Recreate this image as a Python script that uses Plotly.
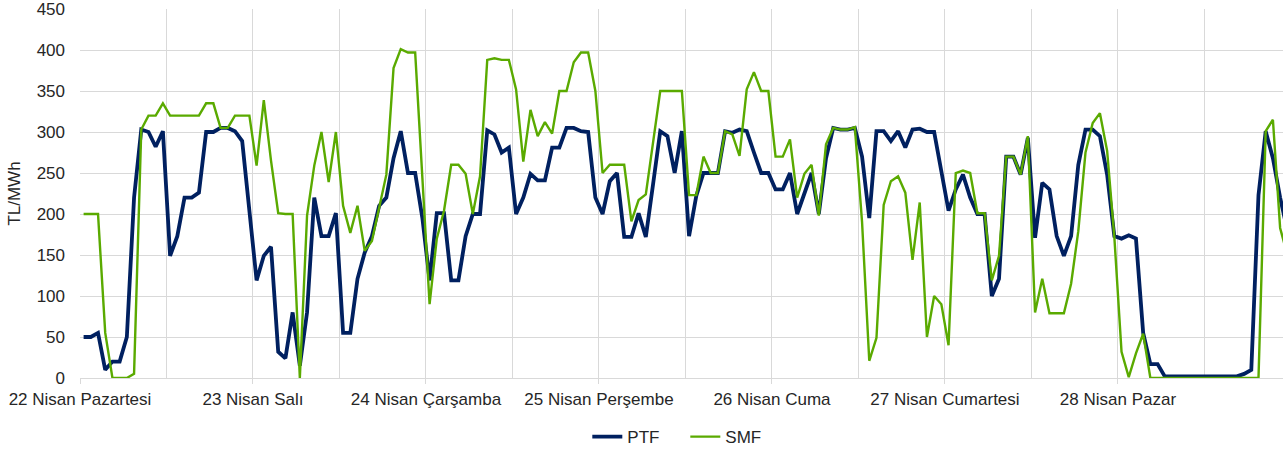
import plotly.graph_objects as go

day_labels = ["22 Nisan Pazartesi", "23 Nisan Salı", "24 Nisan Çarşamba",
              "25 Nisan Perşembe", "26 Nisan Cuma", "27 Nisan Cumartesi", "28 Nisan Pazar"]

ptf = [50, 50, 55, 10, 20, 20, 50, 220, 303, 300, 282, 301, 149, 173, 220, 220, 226, 300, 300, 305, 305, 301, 289, 208,
       119, 149, 160, 32, 24, 80, 15, 80, 220, 173, 173, 201, 55, 55, 121, 153, 173, 210, 220, 268, 301, 250, 250, 195,
       119, 201, 201, 119, 119, 173, 200, 200, 302, 297, 275, 281, 200, 220, 249, 241, 241, 281, 281, 305, 305, 301, 300, 220,
       200, 240, 250, 172, 172, 201, 172, 236, 301, 295, 250, 301, 173, 222, 250, 250, 250, 301, 299, 303, 301, 275, 250, 250,
       230, 230, 250, 200, 224, 250, 200, 268, 305, 303, 303, 305, 270, 195, 301, 301, 289, 301, 281, 303, 304, 300, 300, 252,
       204, 230, 248, 220, 200, 200, 100, 121, 270, 270, 248, 293, 171, 238, 230, 173, 149, 173, 260, 303, 303, 295, 248, 173,
       170, 174, 170, 55, 17, 17, 2, 2, 2, 2, 2, 2, 2, 2, 2, 2, 2, 5, 10, 223, 301, 268, 220, 180]

smf = [200, 200, 200, 55, 0, 0, 0, 5, 303, 320, 320, 335, 320, 320, 320, 320, 320, 335, 335, 305, 305, 320, 320, 320,
       259, 339, 265, 201, 200, 200, 0, 198, 259, 300, 239, 300, 210, 177, 210, 155, 167, 208, 248, 378, 401, 397, 397, 244,
       90, 170, 204, 260, 260, 249, 200, 246, 388, 390, 388, 388, 352, 264, 327, 295, 312, 298, 350, 350, 385, 397, 397, 350,
       250, 260, 260, 260, 191, 217, 224, 287, 350, 350, 350, 350, 223, 223, 270, 250, 250, 301, 297, 271, 352, 373, 350, 350,
       270, 270, 291, 220, 249, 260, 198, 285, 305, 303, 303, 306, 190, 21, 49, 211, 240, 246, 226, 144, 214, 50, 100, 90,
       40, 250, 253, 250, 201, 201, 119, 149, 270, 270, 248, 295, 80, 121, 79, 79, 79, 115, 179, 275, 311, 323, 277, 172,
       32, 1, 30, 54, 0, 0, 0, 0, 0, 0, 0, 0, 0, 0, 0, 0, 0, 0, 0, 0, 301, 315, 183, 150]

hours = list(range(len(ptf)))
day_ticks = [24 * k - 0.5 for k in range(len(day_labels))]

fig = go.Figure()
fig.add_trace(go.Scatter(x=hours, y=ptf, mode="lines", name="PTF",
                         line=dict(color="#002060", width=3.8)))
fig.add_trace(go.Scatter(x=hours, y=smf, mode="lines", name="SMF",
                         line=dict(color="#5AAA00", width=2.4)))

grid = "#D9D9D9"
fig.update_layout(
    width=1283, height=452,
    margin=dict(l=80, r=0, t=9, b=74),
    paper_bgcolor="white", plot_bgcolor="white",
    font=dict(family="Liberation Sans, Arial, sans-serif", size=17, color="#262626"),
    showlegend=True,
    legend=dict(orientation="h", x=0.4217, xanchor="left", xref="paper",
                y=0.033, yanchor="middle", yref="container",
                font=dict(size=17), entrywidth=53, entrywidthmode="pixels"),
    xaxis=dict(range=[-0.5, 166.4], tickvals=day_ticks, ticktext=day_labels,
               showgrid=True, gridcolor=grid, gridwidth=1.3, automargin=False,
               minor=dict(tick0=-0.5, dtick=12, showgrid=True, gridcolor=grid, gridwidth=1.3, ticks=""),
               ticks="outside", ticklen=5, tickcolor=grid, tickwidth=1.3,
               showline=True, linecolor=grid, linewidth=1.3, zeroline=False,
               tickfont=dict(size=17), ticklabeloverflow="allow"),
    yaxis=dict(range=[0, 450.01], tickvals=list(range(0, 451, 50)),
               showgrid=True, gridcolor=grid, gridwidth=1.3, automargin=False,
               zeroline=False, showline=False, ticks="", ticklabelstandoff=14,
               ticklabeloverflow="allow",
               title=dict(text="TL/MWh", standoff=11, font=dict(size=17)),
               tickfont=dict(size=17)),
)

fig.write_html("out.html", config={"displayModeBar": False},
               post_script="document.body.style.margin='0';document.body.style.overflow='hidden';")
